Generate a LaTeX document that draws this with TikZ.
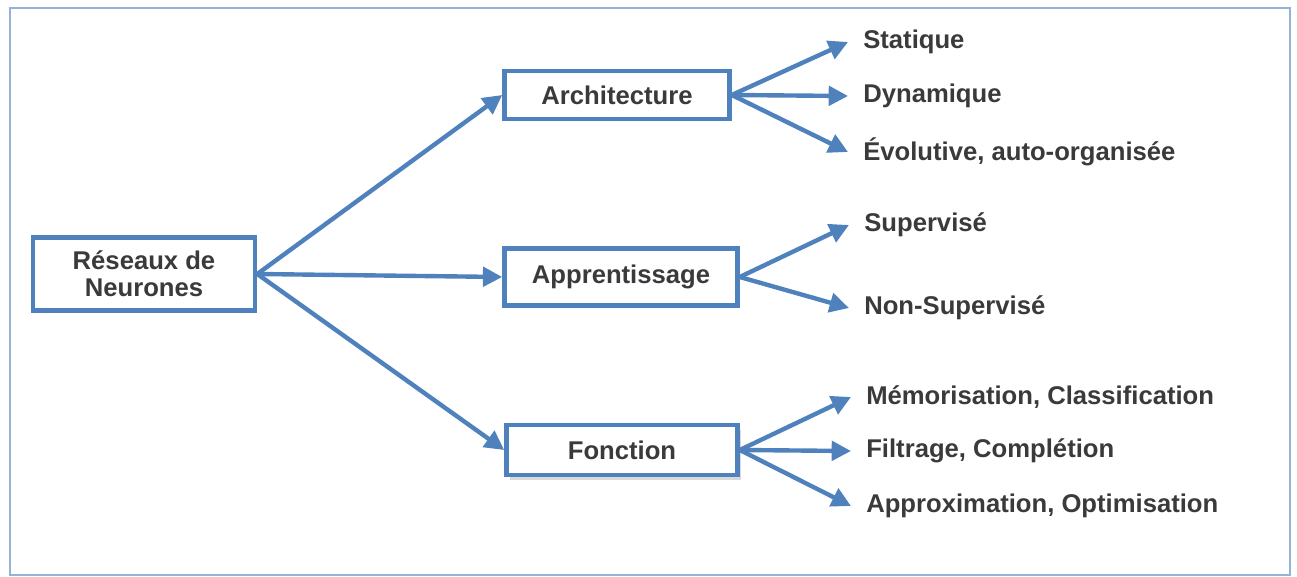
\documentclass[tikz,border=0pt]{standalone}
\usepackage{fontspec}
\setmainfont{Liberation Sans}
\usetikzlibrary{arrows.meta,shadows}
\definecolor{boxblue}{HTML}{4F81BD}
\definecolor{frameblue}{HTML}{95B3D7}
\definecolor{txtgray}{HTML}{3A3A3A}

\begin{document}
\begin{tikzpicture}[x=0.02cm,y=-0.02cm,
  every node/.style={font=\bfseries\fontsize{14.6}{15.5}\selectfont, text=txtgray},
  bloc/.style={draw=boxblue, line width=2.6pt, fill=white, align=center},
  leaf/.style={anchor=west, inner xsep=8.5pt},
  fleche/.style={draw=boxblue, line width=2.5pt, -{Triangle[length=11pt,width=11pt]}}]
\useasboundingbox (0,0) rectangle (1297,577);
\draw[frameblue, line width=1.2pt] (10,8) rectangle (1290,575);

% main boxes
\node[bloc, minimum width=4.44cm, minimum height=1.46cm] (rn) at (144,274) {Réseaux de\\Neurones};
\node[bloc, minimum width=4.5cm, minimum height=0.96cm] (arch) at (617,95) {Architecture};
\node[bloc, minimum width=4.66cm, minimum height=1.14cm] (app) at (621,277) {Apprentissage};
\node[bloc, minimum width=4.62cm, minimum height=1cm,
  drop shadow={shadow xshift=2pt, shadow yshift=-3pt, opacity=0.3}] (fct) at (622,450) {Fonction};

% leaves
\node[leaf] (stat) at (848,42) {Statique};
\node[leaf] (dyn) at (848,96) {Dynamique};
\node[leaf] (evol) at (848,152) {Évolutive, auto-organisée};
\node[leaf] (sup) at (849,225) {Supervisé};
\node[leaf] (nsup) at (849,308) {Non-Supervisé};
\node[leaf] (memo) at (851,397) {Mémorisation, Classification};
\node[leaf] (filt) at (851,451) {Filtrage, Complétion};
\node[leaf] (appr) at (851,506) {Approximation, Optimisation};

\foreach \b in {arch,app,fct}
  \draw[fleche] (rn.east) -- (\b.west);
\foreach \l in {stat,dyn,evol}
  \draw[fleche] (arch.east) -- (\l.west);
\foreach \l in {sup,nsup}
  \draw[fleche] (app.east) -- (\l.west);
\foreach \l in {memo,filt,appr}
  \draw[fleche] (fct.east) -- (\l.west);
\end{tikzpicture}
\end{document}
